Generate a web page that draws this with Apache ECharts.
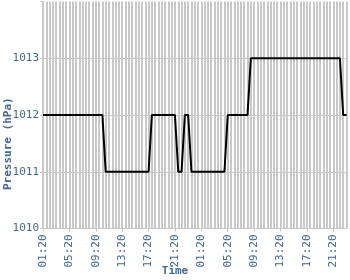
<!DOCTYPE html>
<html>
<head>
<meta charset="utf-8">
<script src="https://cdn.jsdelivr.net/npm/echarts@6/dist/echarts.min.js"></script>
<style>
html,body{margin:0;padding:0;background:#fff;}
#chart{width:350px;height:280px;}
</style>
</head>
<body>
<div id="chart"></div>
<script>
var times = [
  '01:20','01:50','02:20','02:50','03:20','03:50','04:20','04:50','05:20','05:50',
  '06:20','06:50','07:20','07:50','08:20','08:50','09:20','09:50','10:20','10:50',
  '11:20','11:50','12:20','12:50','13:20','13:50','14:20','14:50','15:20','15:50',
  '16:20','16:50','17:20','17:50','18:20','18:50','19:20','19:50','20:20','20:50',
  '21:20','21:50','22:20','22:50','23:20','23:50',
  '00:20','00:50','01:20','01:50','02:20','02:50','03:20','03:50','04:20','04:50',
  '05:20','05:50','06:20','06:50','07:20','07:50','08:20','08:50','09:20','09:50',
  '10:20','10:50','11:20','11:50','12:20','12:50','13:20','13:50','14:20','14:50',
  '15:20','15:50','16:20','16:50','17:20','17:50','18:20','18:50','19:20','19:50',
  '20:20','20:50','21:20','21:50','22:20','22:50','23:20'
];
var pressure = [
  1012,1012,1012,1012,1012,1012,1012,1012,1012,1012,
  1012,1012,1012,1012,1012,1012,1012,1012,1012,
  1011,1011,1011,1011,1011,1011,1011,1011,1011,1011,1011,1011,1011,1011,
  1012,1012,1012,1012,1012,1012,1012,1012,
  1011,1011,
  1012,1012,
  1011,1011,1011,1011,1011,1011,1011,1011,1011,1011,1011,
  1012,1012,1012,1012,1012,1012,1012,
  1013,1013,1013,1013,1013,1013,1013,1013,1013,1013,
  1013,1013,1013,1013,1013,1013,1013,1013,1013,1013,
  1013,1013,1013,1013,1013,1013,1013,1013,
  1012,1012
];
var yTicks = [1010, 1011, 1012, 1013, 1014];
var yTitle = 'Pressure (hPa)';
var xTitle = 'Time';

var blue = '#46698f';
var grey = '#c8c8c8';
var font = '"DejaVu Sans Mono", monospace';

var chart = echarts.init(document.getElementById('chart'), null, {renderer: 'canvas'});
chart.setOption({
  animation: false,
  grid: {left: 43, right: 3.5, top: 1.5, bottom: 51.5, containLabel: false},
  xAxis: {
    type: 'category',
    data: times,
    boundaryGap: false,
    axisLine: {show: true, lineStyle: {color: grey, width: 1}},
    axisTick: {show: true, interval: 7, length: 3, lineStyle: {color: grey}},
    axisLabel: {interval: 7, rotate: 90, margin: 6, color: blue, fontFamily: font, fontSize: 11},
    splitLine: {show: true, interval: 0, lineStyle: {color: grey, width: 2}}
  },
  yAxis: {
    type: 'value',
    min: yTicks[0],
    max: yTicks[yTicks.length - 1],
    interval: 1,
    axisLine: {show: true, lineStyle: {color: grey, width: 1}},
    axisTick: {show: true, length: 3, lineStyle: {color: grey}},
    axisLabel: {
      margin: 4, color: blue, fontFamily: font, fontSize: 11,
      formatter: function (v) { return v === yTicks[yTicks.length - 1] ? '' : String(v); }
    },
    splitLine: {show: true, showMinLine: false, showMaxLine: false, lineStyle: {color: grey, width: 1}}
  },
  graphic: [
    {type: 'text', left: 'center', top: 266, style: {text: xTitle, fill: blue, font: 'bold 11px ' + font}},
    {type: 'text', x: 3, y: 190, rotation: Math.PI / 2, style: {text: yTitle, fill: blue, font: 'bold 11px ' + font, textVerticalAlign: 'top'}}
  ],
  series: [{
    type: 'line',
    data: pressure,
    showSymbol: false,
    symbol: 'none',
    lineStyle: {color: '#000', width: 2},
    z: 5
  }]
});
</script>
</body>
</html>
